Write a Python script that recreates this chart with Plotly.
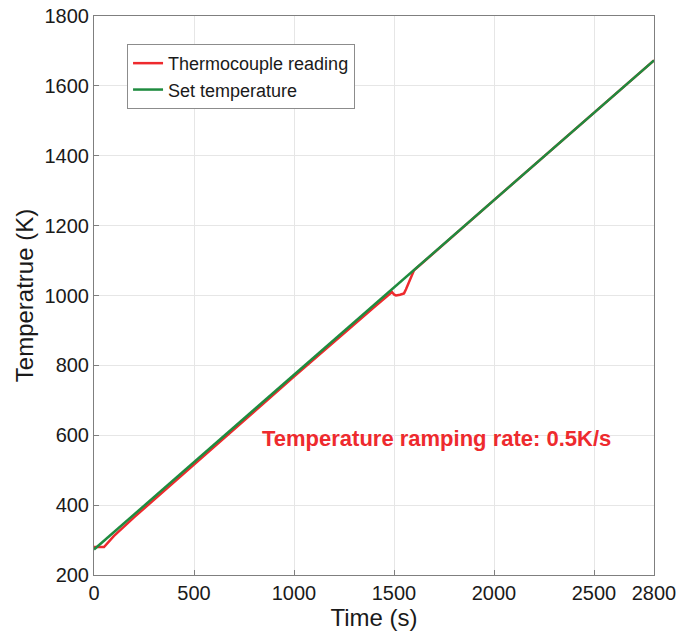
import plotly.graph_objects as go

# Set-point ramp: 0.5 K/s starting at ~273 K
set_time = [0, 2800]
set_temp = [273, 1673]

# Thermocouple reading (K) versus time (s)
tc_time = [0, 50, 100, 200, 500, 1000, 1400, 1480, 1490, 1500, 1510,
           1530, 1550, 1560, 1580, 1600, 2000, 2800]
tc_temp = [280, 280, 312, 365, 516, 768, 966, 1006, 1010, 1003, 1000,
           1002, 1006, 1018, 1045, 1072, 1273, 1673]

x_ticks = [0, 500, 1000, 1500, 2000, 2500, 2800]
y_ticks = [200, 400, 600, 800, 1000, 1200, 1400, 1600, 1800]

RED = "#ee2a2e"
GREEN = "#1f8b3f"
FONT = "Liberation Sans, Arial, sans-serif"
INK = "#1a1a1a"

fig = go.Figure()
fig.add_trace(go.Scatter(x=tc_time, y=tc_temp, mode="lines",
                         name="Thermocouple reading",
                         line=dict(color=RED, width=2.5)))
fig.add_trace(go.Scatter(x=set_time, y=set_temp, mode="lines",
                         name="Set temperature",
                         line=dict(color=GREEN, width=2.5)))

fig.add_annotation(x=1710, y=590, xref="x", yref="y",
                   text="<b>Temperature ramping rate: 0.5K/s</b>",
                   showarrow=False,
                   font=dict(family=FONT, size=22, color=RED))

axis_common = dict(showgrid=True, gridcolor="#e6e6e6", gridwidth=1,
                   showline=True, linecolor="#7f7f7f", linewidth=1,
                   mirror=True, ticks="inside", ticklen=5,
                   tickcolor="#7f7f7f", zeroline=False, automargin=False,
                   tickfont=dict(family=FONT, size=20, color=INK))

fig.update_xaxes(range=[0, 2800], tickvals=x_ticks,
                 title=dict(text="Time (s)", standoff=2,
                            font=dict(family=FONT, size=24, color=INK)),
                 **axis_common)
fig.update_yaxes(range=[200, 1800], tickvals=y_ticks,
                 title=dict(text="Temperatrue (K)", standoff=4,
                            font=dict(family=FONT, size=24, color=INK)),
                 **axis_common)

fig.update_layout(
    width=681, height=634,
    margin=dict(l=94, r=27, t=16, b=59),
    plot_bgcolor="white", paper_bgcolor="white",
    font=dict(family=FONT, color=INK),
    legend=dict(x=0.059, y=0.95, xanchor="left", yanchor="top",
                bgcolor="white", bordercolor="#8c8c8c", borderwidth=1,
                font=dict(family=FONT, size=18, color=INK),
                itemwidth=30, tracegroupgap=0),
)

fig.write_html("out.html")
